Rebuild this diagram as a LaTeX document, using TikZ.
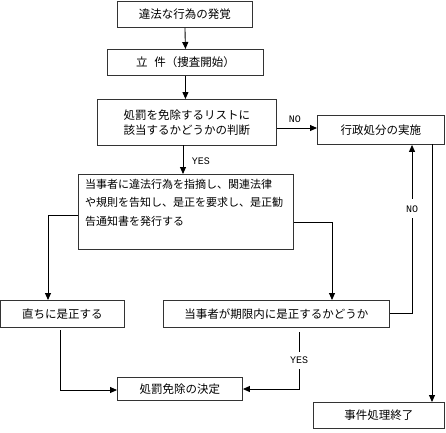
\documentclass[tikz,border=0pt]{standalone}
\usepackage{fontspec}
\newfontfamily\jp{Noto Sans CJK JP}
\newfontfamily\lbl{Liberation Mono}
\usetikzlibrary{arrows.meta}
\begin{document}
\begin{tikzpicture}[x=1pt,y=-1pt,
  box/.style={draw=black!80,line width=0.9pt,rectangle,inner sep=0pt,font=\jp\fontsize{11.5}{15}\selectfont,anchor=north west},
  arr/.style={line width=0.9pt,-{Triangle[length=7pt,width=6pt]}},
  lbf/.style={font=\lbl\fontsize{10}{11}\selectfont},
  lab/.style={lbf,fill=white,inner sep=1.5pt}]
\useasboundingbox (0,0) rectangle (446,432);
\node[box,minimum width=135pt,minimum height=26pt] (b1) at (117,1) {違法な行為の発覚};
\node[box,minimum width=156pt,minimum height=26pt] (b2) at (107,49) {立\hspace{0.6em}件（捜査開始）};
\node[box,minimum width=179pt,minimum height=46pt,align=center] (b3) at (97,99) {処罰を免除するリストに\\該当するかどうかの判断};
\node[box,minimum width=127pt,minimum height=29pt] (b4) at (317,115) {行政処分の実施};
\node[box,minimum width=215pt,minimum height=75pt] (b5) at (78,174) {};
\node[anchor=north west,inner sep=0pt,align=left,font=\jp\fontsize{11}{18.5}\selectfont] (b5t) at ([xshift=7pt,yshift=-5pt]b5.north west) {当事者に違法行為を指摘し、関連法律\\や規則を告知し、是正を要求し、是正勧\\告通知書を発行する};
\node[box,minimum width=124pt,minimum height=27pt] (b6) at (0,300) {直ちに是正する};
\node[box,minimum width=226pt,minimum height=27pt] (b7) at (163,300) {当事者が期限内に是正するかどうか};
\node[box,minimum width=125pt,minimum height=23pt] (b8) at (117,377) {処罰免除の決定};
\node[box,minimum width=131pt,minimum height=26pt] (b9) at (313,402) {事件処理終了};
\coordinate (c1) at (48,215);
\coordinate (c2) at (332,222);
\coordinate (c3) at (412,313);
\coordinate (c4) at (60,390);
\coordinate (c5) at (299,389);
\draw[arr] (b1.south) -- (b2.north);
\draw[arr] (b2.south) -- (b2.south |- b3.north);
\draw[arr] (b3.east |- 0,128) -- node[above,lbf,yshift=2pt,xshift=-2pt]{NO} (b4.west |- 0,128);
\draw[arr] (183,145) -- node[right,lbf,xshift=5pt,yshift=-2pt]{YES} (b5.north -| 183,0);
\draw[arr] (b5.west |- c1) -- (c1) -- (c1 |- b6.north);
\draw[arr] (b5.east |- c2) -- (c2) -- (c2 |- b7.north);
\draw[arr] (b7.east |- c3) -- (c3) -- node[lab,pos=0.62,inner ysep=6pt]{NO} (c3 |- b4.south);
\draw[arr] (432,144) -- (432,402);
\draw[arr] (60,330) -- (c4) -- (b8.west |- c4);
\draw[arr] (299,332) -- node[lab,inner ysep=5pt]{YES} (c5) -- (b8.east |- c5);
\end{tikzpicture}
\end{document}
